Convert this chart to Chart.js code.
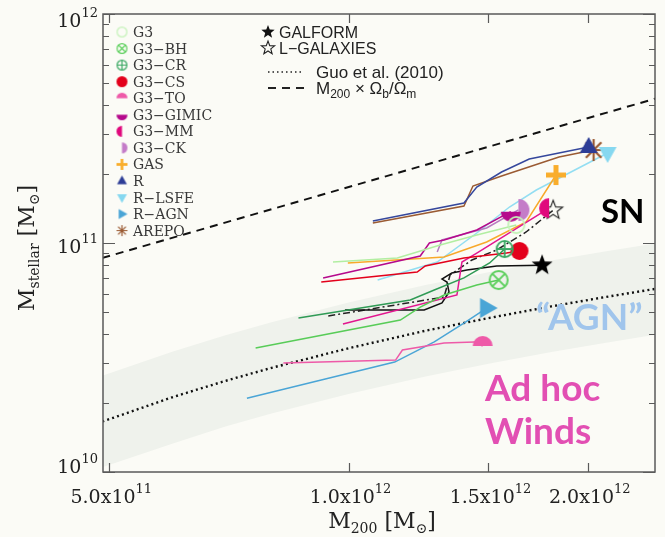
<!DOCTYPE html>
<html>
<head>
<meta charset="utf-8">
<script src="https://cdn.jsdelivr.net/npm/chart.js@4.4.0/dist/chart.umd.min.js"></script>
<style>
html,body{margin:0;padding:0;background:#fbfbf6;}
</style>
</head>
<body>
<canvas id="graph_mass" width="665" height="537"></canvas>
<script>
// Relacion de Guo et al. (2010) y su banda de dispersion
var guo_m200 = [4.9e11, 6e11, 7e11, 8e11, 1e12, 1.25e12, 1.5e12, 1.8e12, 2.1e12, 2.45e12]
var guo_mstar = [1.66e10, 2.12e10, 2.50e10, 2.85e10, 3.47e10, 4.14e10, 4.70e10, 5.29e10, 5.80e10, 6.33e10]
var banda_alta = [2.63e10, 3.35e10, 3.96e10, 4.51e10, 5.50e10, 6.56e10, 7.45e10, 8.39e10, 9.19e10, 1.00e11]
var banda_baja = [1.05e10, 1.33e10, 1.58e10, 1.80e10, 2.19e10, 2.61e10, 2.97e10, 3.34e10, 3.66e10, 3.99e10]
var bar_m200 = [4.9e11, 2.45e12]
var bar_mstar = [8.6e10, 4.3e11]

// trayectorias de cada codigo (el ultimo punto lleva el simbolo)
var g3_m200 = [9.56e11, 1.152e12, 1.304e12, 1.45e12, 1.626e12]
var g3_mstar = [8.26e10, 8.60e10, 9.80e10, 1.084e11, 1.198e11]
var g3bh_m200 = [7.64e11, 1.162e12, 1.231e12, 1.319e12, 1.45e12, 1.545e12]
var g3bh_mstar = [3.48e10, 4.61e10, 5.25e10, 5.93e10, 6.56e10, 6.89e10]
var g3cr_m200 = [8.65e11, 1.196e12, 1.282e12, 1.397e12, 1.505e12, 1.572e12]
var g3cr_mstar = [4.70e10, 5.64e10, 6.23e10, 7.04e10, 8.18e10, 9.41e10]
var g3cs_m200 = [9.24e11, 1.22e12, 1.249e12, 1.397e12, 1.58e12, 1.641e12]
var g3cs_mstar = [6.75e10, 7.47e10, 7.94e10, 8.60e10, 9.04e10, 9.23e10]
var g3to_m200 = [8.28e11, 1.146e12, 1.169e12, 1.319e12, 1.44e12, 1.475e12]
var g3to_mstar = [2.99e10, 3.08e10, 3.41e10, 3.66e10, 3.70e10, 3.55e10]
var g3gimic_m200 = [9.29e11, 1.231e12, 1.264e12, 1.319e12, 1.45e12, 1.60e12]
var g3gimic_mstar = [7.04e10, 8.77e10, 1.00e11, 1.031e11, 1.14e11, 1.37e11]
var g3mm_m200 = [9.84e11, 1.369e12, 1.389e12, 1.45e12, 1.788e12]
var g3mm_mstar = [4.43e10, 5.93e10, 8.26e10, 9.04e10, 1.42e11]
var g3ck_m200 = [1.293e12, 1.311e12, 1.492e12, 1.636e12]
var g3ck_mstar = [9.14e10, 1.031e11, 1.163e11, 1.394e11]
var gas_m200 = [9.98e11, 1.319e12, 1.492e12, 1.673e12, 1.824e12]
var gas_mstar = [8.18e10, 8.69e10, 1.01e11, 1.235e11, 1.981e11]
var r_m200 = [1.073e12, 1.397e12, 1.45e12, 1.558e12, 1.688e12, 2.005e12]
var r_mstar = [1.248e11, 1.495e11, 1.756e11, 2.042e11, 2.327e11, 2.626e11]
var rlsfe_m200 = [1.088e12, 1.293e12, 1.45e12, 1.594e12, 1.723e12, 2.118e12]
var rlsfe_mstar = [6.89e10, 8.26e10, 1.106e11, 1.436e11, 1.704e11, 2.472e11]
var ragn_m200 = [7.45e11, 9.24e11, 1.143e12, 1.282e12, 1.397e12, 1.492e12]
var ragn_mstar = [2.10e10, 2.52e10, 3.02e10, 3.70e10, 4.47e10, 5.20e10]
var arepo_m200 = [1.073e12, 1.397e12, 1.434e12, 1.558e12, 1.84e12, 2.034e12]
var arepo_mstar = [1.223e11, 1.451e11, 1.774e11, 1.961e11, 2.374e11, 2.547e11]
var galform_m200 = [9.90e11, 1.245e12, 1.311e12, 1.338e12, 1.330e12, 1.311e12, 1.349e12, 1.409e12, 1.536e12, 1.752e12]
var galform_mstar = [5.10e10, 5.10e10, 5.47e10, 6.11e10, 6.75e10, 6.96e10, 7.40e10, 7.62e10, 7.94e10, 8.0e10]
var lgal_m200 = [9.43e11, 1.319e12, 1.342e12, 1.43e12, 1.536e12, 1.673e12, 1.809e12]
var lgal_mstar = [4.80e10, 5.81e10, 7.25e10, 8.43e10, 9.32e10, 1.117e11, 1.39e11]

// ejes
var x_min = 4.91e11, x_max = 2.43e12
var y_min = 1e10, y_max = 1e12
var x_marcas = [5e11, 1e12, 1.5e12, 2e12]
var x_mantisas = ['5.0', '1.0', '1.5', '2.0']
var x_exponentes = ['11', '12', '12', '12']
var y_mayores = [1e10, 1e11, 1e12]
var y_exponentes = ['10', '11', '12']
var y_menores = [2e10, 3e10, 4e10, 5e10, 6e10, 7e10, 8e10, 9e10, 2e11, 3e11, 4e11, 5e11, 6e11, 7e11, 8e11, 9e11]

var leyenda_nombres = ['G3', 'G3\u2212BH', 'G3\u2212CR', 'G3\u2212CS', 'G3\u2212TO', 'G3\u2212GIMIC', 'G3\u2212MM', 'G3\u2212CK', 'GAS', 'R', 'R\u2212LSFE', 'R\u2212AGN', 'AREPO']

function marca(tipo, color, r, ang) {
    var s = Math.ceil(2 * r + 6)
    var c = document.createElement('canvas')
    c.width = s; c.height = s
    var g = c.getContext('2d')
    g.translate(s / 2, s / 2)
    g.fillStyle = color
    g.strokeStyle = color
    g.lineWidth = Math.max(1.2, r / 5)
    g.lineCap = 'butt'
    g.beginPath()
    if (tipo == 'aro' || tipo == 'aroX' || tipo == 'aroMas') {
        var rr = r - g.lineWidth / 2
        g.arc(0, 0, rr, 0, 2 * Math.PI)
        g.stroke()
        g.beginPath()
        if (tipo == 'aroX') {
            var d = rr * 0.707
            g.moveTo(-d, -d); g.lineTo(d, d); g.moveTo(d, -d); g.lineTo(-d, d)
        }
        if (tipo == 'aroMas') {
            g.moveTo(-rr, 0); g.lineTo(rr, 0); g.moveTo(0, -rr); g.lineTo(0, rr)
        }
        g.stroke()
    } else if (tipo == 'punto') {
        g.arc(0, 0, r, 0, 2 * Math.PI); g.fill()
    } else if (tipo == 'medio') {
        g.arc(0, 0, r, ang, ang + Math.PI); g.closePath(); g.fill()
    } else if (tipo == 'mas') {
        var w = r * 0.5
        g.fillRect(-r, -w / 2, 2 * r, w); g.fillRect(-w / 2, -r, w, 2 * r)
    } else if (tipo == 'tri') {
        g.rotate(ang)
        g.moveTo(0, -r); g.lineTo(r * 0.9, r * 0.6); g.lineTo(-r * 0.9, r * 0.6); g.closePath(); g.fill()
    } else if (tipo == 'aster') {
        g.lineWidth = Math.max(1.2, r / 5)
        for (var i = 0; i < 4; i++) {
            var a = i * Math.PI / 4
            g.moveTo(-r * Math.cos(a), -r * Math.sin(a)); g.lineTo(r * Math.cos(a), r * Math.sin(a))
        }
        g.stroke()
    } else if (tipo == 'estrella' || tipo == 'hueca') {
        for (var k = 0; k < 10; k++) {
            var rad = k % 2 == 0 ? r : r * 0.42
            var b = -Math.PI / 2 + k * Math.PI / 5
            if (k == 0) g.moveTo(rad * Math.cos(b), rad * Math.sin(b))
            else g.lineTo(rad * Math.cos(b), rad * Math.sin(b))
        }
        g.closePath()
        if (tipo == 'estrella') g.fill()
        else { g.lineWidth = 1.1; g.stroke() }
    }
    return c
}

// [m200, mstar, color linea, tipo, color simbolo, angulo, radio]
var series = [
    [g3_m200, g3_mstar, '#b2eea2', 'aro', '#c4f2b8', 0, 9],
    [g3bh_m200, g3bh_mstar, '#58cc58', 'aroX', '#5fd05f', 0, 10],
    [g3cr_m200, g3cr_mstar, '#2f9a55', 'aroMas', '#3aa863', 0, 9],
    [g3cs_m200, g3cs_mstar, '#e3001b', 'punto', '#e3001b', 0, 9],
    [g3to_m200, g3to_mstar, '#ee5aa8', 'medio', '#ee5aa8', Math.PI, 10],
    [g3gimic_m200, g3gimic_mstar, '#b5098c', 'medio', '#b5098c', 0, 10],
    [g3mm_m200, g3mm_mstar, '#e2168f', 'medio', '#e0087c', Math.PI / 2, 10],
    [g3ck_m200, g3ck_mstar, '#b77cc0', 'medio', '#c47cc8', -Math.PI / 2, 11],
    [gas_m200, gas_mstar, '#f8a92a', 'mas', '#f9ad2c', 0, 10],
    [r_m200, r_mstar, '#35479c', 'tri', '#2d3d96', 0, 10],
    [rlsfe_m200, rlsfe_mstar, '#93def2', 'tri', '#86d8f0', Math.PI, 10],
    [ragn_m200, ragn_mstar, '#4aa5d6', 'tri', '#4aa5d6', Math.PI / 2, 11],
    [arepo_m200, arepo_mstar, '#9a5a32', 'aster', '#9a5a32', 0, 11]
]

function pares(xs, ys) {
    return xs.map(function(x, i){ return {x: x, y: ys[i]} })
}
function ultimo(xs, ys) {
    return [{x: xs[xs.length - 1], y: ys[ys.length - 1]}]
}

function linea(datos, color, extra) {
    var d = {data: datos, borderColor: color, borderWidth: 1.5, pointRadius: 0, fill: false, tension: 0, order: 0, showLine: true}
    for (var k in extra) d[k] = extra[k]
    return d
}
function simbolo(datos, imagen) {
    return {data: datos, showLine: false, pointStyle: imagen, pointRadius: 10, order: -1, borderWidth: 0}
}

function texto(ctx, partes, x, y, align) {
    var total = 0
    partes.forEach(function(p){ ctx.font = p[1]; p.w = ctx.measureText(p[0]).width; total += p.w })
    var cx = align == 'center' ? x - total / 2 : (align == 'right' ? x - total : x)
    partes.forEach(function(p){ ctx.font = p[1]; ctx.fillText(p[0], cx, y + (p[2] || 0)); cx += p.w })
}

var fondo = {
    id: 'fondo',
    beforeDraw: function(chart){
        var ctx = chart.ctx
        ctx.save()
        ctx.fillStyle = '#fbfbf6'
        ctx.fillRect(0, 0, chart.width, chart.height)
        ctx.restore()
    }
}

var adornos = {
    id: 'adornos',
    afterDraw: function(chart){
        var ctx = chart.ctx, a = chart.chartArea
        var xs = chart.scales.x, ys = chart.scales.y
        ctx.save()
        ctx.strokeStyle = '#5a5a5a'
        ctx.lineWidth = 1.5
        ctx.strokeRect(a.left, a.top, a.right - a.left, a.bottom - a.top)
        ctx.lineWidth = 1.2
        ctx.beginPath()
        y_menores.forEach(function(v){
            var p = Math.round(ys.getPixelForValue(v)) + 0.5
            ctx.moveTo(a.left, p); ctx.lineTo(a.left + 6, p)
            ctx.moveTo(a.right, p); ctx.lineTo(a.right - 6, p)
        })
        y_mayores.forEach(function(v){
            var p = Math.round(ys.getPixelForValue(v)) + 0.5
            ctx.moveTo(a.left, p); ctx.lineTo(a.left + 12, p)
            ctx.moveTo(a.right, p); ctx.lineTo(a.right - 12, p)
        })
        x_marcas.forEach(function(v){
            var p = Math.round(xs.getPixelForValue(v)) + 0.5
            ctx.moveTo(p, a.bottom); ctx.lineTo(p, a.bottom - 9)
            ctx.moveTo(p, a.top); ctx.lineTo(p, a.top + 9)
        })
        ctx.stroke()

        // etiquetas
        ctx.fillStyle = '#222'
        ctx.textBaseline = 'alphabetic'
        y_mayores.forEach(function(v, i){
            var p = ys.getPixelForValue(v)
            var base = Math.min(473, Math.max(27, p + 10))
            texto(ctx, [['10', '19px "DejaVu Serif"'], [y_exponentes[i], '13px "DejaVu Serif"', -10]], 98, base, 'right')
        })
        x_marcas.forEach(function(v, i){
            var p = xs.getPixelForValue(v)
            texto(ctx, [[x_mantisas[i] + 'x10', '19px "DejaVu Serif"'], [x_exponentes[i], '13px "DejaVu Serif"', -10]], p + 2, 503, 'center')
        })
        texto(ctx, [['M', '22px "DejaVu Serif"'], ['200', '14px "DejaVu Serif"', 5], [' [M', '22px "DejaVu Serif"'], ['\u2299', '14px "DejaVu Serif"', 5], [']', '22px "DejaVu Serif"']], 382, 528, 'center')
        ctx.save()
        ctx.translate(34, 248)
        ctx.rotate(-Math.PI / 2)
        texto(ctx, [['M', '22px "DejaVu Serif"'], ['stellar', '14px "DejaVu Serif"', 5], [' [M', '22px "DejaVu Serif"'], ['\u2299', '14px "DejaVu Serif"', 5], [']', '22px "DejaVu Serif"']], 0, 0, 'center')
        ctx.restore()

        // leyenda izquierda
        ctx.fillStyle = '#383838'
        ctx.font = '14px "DejaVu Serif"'
        leyenda_nombres.forEach(function(n, i){
            var y = 32 + i * 16.55
            var s = series[i]
            var m = marca(s[3], s[4], 5.5, s[5])
            ctx.drawImage(m, 122 - m.width / 2, y - m.height / 2)
            ctx.fillText(n, 133, y + 5)
        })
        // leyenda derecha
        var e1 = marca('estrella', '#111', 7), e2 = marca('hueca', '#222', 7)
        ctx.drawImage(e1, 268 - e1.width / 2, 32 - e1.height / 2)
        ctx.drawImage(e2, 268 - e2.width / 2, 48 - e2.height / 2)
        ctx.fillStyle = '#222'
        ctx.font = '16px "Liberation Sans"'
        ctx.fillText('GALFORM', 279, 38)
        ctx.fillText('L\u2212GALAXIES', 279, 54)
        ctx.strokeStyle = '#222'
        ctx.lineWidth = 1.6
        ctx.setLineDash([1.5, 3])
        ctx.beginPath(); ctx.moveTo(268, 72); ctx.lineTo(303, 72); ctx.stroke()
        ctx.setLineDash([8, 6])
        ctx.lineWidth = 2
        ctx.beginPath(); ctx.moveTo(268, 88); ctx.lineTo(308, 88); ctx.stroke()
        ctx.setLineDash([])
        ctx.font = '17px "Liberation Sans"'
        ctx.fillText('Guo et al. (2010)', 316, 78)
        texto(ctx, [['M', '17px "Liberation Sans"'], ['200', '12px "Liberation Sans"', 4], [' \u00d7 \u03a9', '17px "Liberation Sans"'], ['b', '12px "Liberation Sans"', 4], ['/\u03a9', '17px "Liberation Sans"'], ['m', '12px "Liberation Sans"', 4]], 316, 94, 'left')

        // anotaciones
        ctx.font = 'bold 33px Lato'
        ctx.fillStyle = '#000'
        ctx.fillText('SN', 601, 223)
        ctx.fillStyle = '#a0c5ec'
        ctx.font = 'bold 37px Lato'
        ctx.fillText('\u201cAGN\u201d', 536, 330)
        ctx.fillStyle = '#e24fb3'
        ctx.fillText('Ad hoc', 485, 401)
        ctx.fillText('Winds', 485, 444)
        ctx.restore()
    }
}

function crearGrafico(){
    var g = document.getElementById('graph_mass').getContext('2d')
    var datasets = [
        linea(pares(guo_m200, banda_alta), 'rgba(0,0,0,0)', {borderWidth: 0, order: 10}),
        linea(pares(guo_m200, banda_baja), 'rgba(0,0,0,0)', {borderWidth: 0, order: 10, fill: '-1', backgroundColor: '#eff2ec'}),
        linea(pares(guo_m200, guo_mstar), '#111', {borderWidth: 2.4, borderDash: [2, 3.2], order: 5}),
        linea(pares(bar_m200, bar_mstar), '#111', {borderWidth: 2, borderDash: [8, 6], order: 5})
    ]
    series.forEach(function(s){
        datasets.push(linea(pares(s[0], s[1]), s[2]))
        datasets.push(simbolo(ultimo(s[0], s[1]), marca(s[3], s[4], s[6], s[5])))
    })
    datasets.push(linea(pares(galform_m200, galform_mstar), '#111', {borderWidth: 1.5}))
    datasets.push(linea(pares(lgal_m200, lgal_mstar), '#222', {borderWidth: 1.5, borderDash: [7, 3, 2, 3]}))
    datasets.push(simbolo(ultimo(galform_m200, galform_mstar), marca('estrella', '#000', 11)))
    datasets.push(simbolo(ultimo(lgal_m200, lgal_mstar), marca('hueca', '#222', 10)))

    new Chart(g, {
        type: 'line',
        data: {datasets: datasets},
        options: {
            responsive: false,
            maintainAspectRatio: false,
            animation: false,
            events: [],
            layout: {padding: {top: 14, right: 5, left: 0, bottom: 0}},
            plugins: {legend: {display: false}, tooltip: {enabled: false}},
            scales: {
                x: {
                    type: 'logarithmic', min: x_min, max: x_max,
                    grid: {display: false}, border: {display: false},
                    ticks: {display: false},
                    afterFit: function(s){ s.height = 65 }
                },
                y: {
                    type: 'logarithmic', min: y_min, max: y_max,
                    grid: {display: false}, border: {display: false},
                    ticks: {display: false},
                    afterFit: function(s){ s.width = 103 }
                }
            }
        },
        plugins: [fondo, adornos]
    })
}
document.addEventListener('DOMContentLoaded', crearGrafico)
</script>
</body>
</html>
